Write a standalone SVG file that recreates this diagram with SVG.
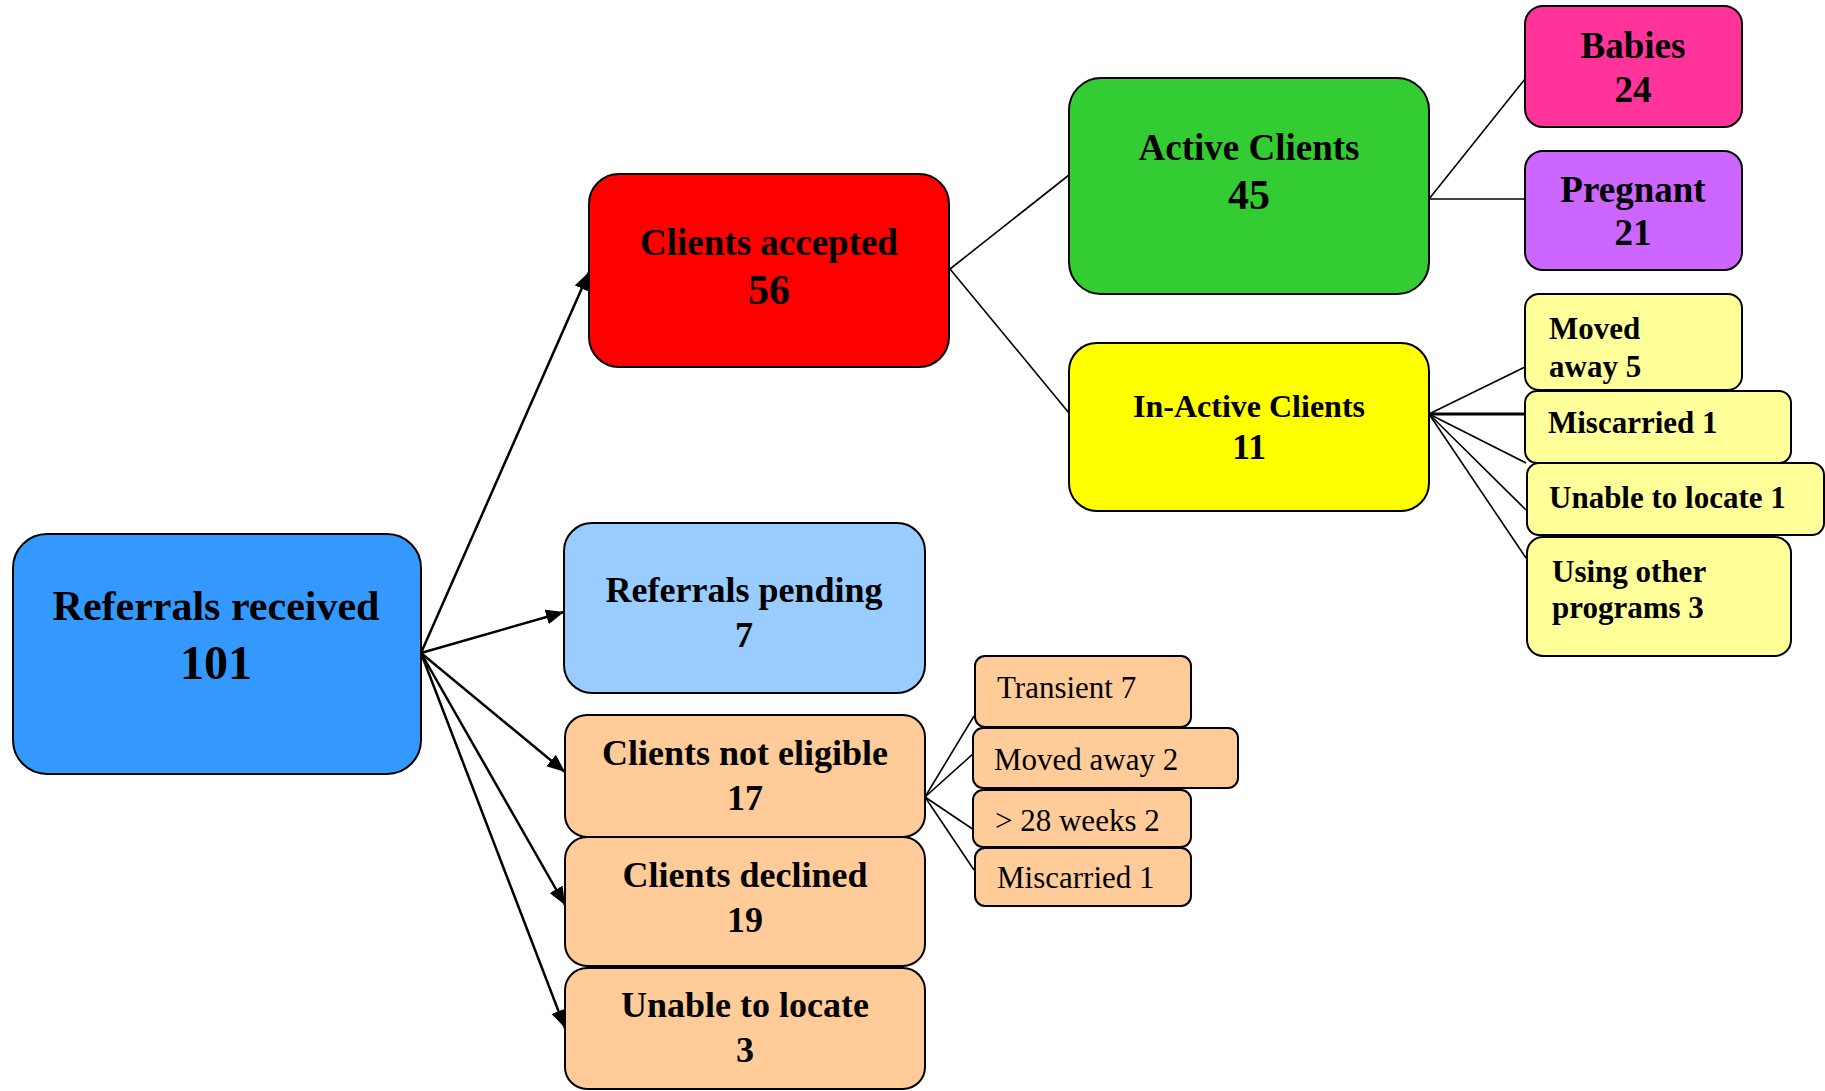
<svg xmlns="http://www.w3.org/2000/svg" width="1825" height="1091" viewBox="0 0 1825 1091">
<style>
.box{stroke:#000;stroke-width:2}
.t{font-family:"Liberation Serif","Times New Roman",serif;font-weight:bold;fill:#000}
.r{font-family:"Liberation Serif","Times New Roman",serif;font-weight:normal;fill:#000}
.arr{stroke:#000;stroke-width:2.5;fill:none;marker-end:url(#ah)}
.ln{stroke:#000;stroke-width:1.6;fill:none}
</style>
<defs>
<marker id="ah" markerUnits="userSpaceOnUse" markerWidth="20" markerHeight="16" refX="18" refY="7.5" orient="auto">
<path d="M0,0 L18,7.5 L0,15 z" fill="#000"/>
</marker>
</defs>
<rect width="1825" height="1091" fill="#fff"/>
<g id="connectors">
<line class="arr" x1="421" y1="653" x2="589" y2="272"/>
<line class="arr" x1="421" y1="653" x2="564" y2="612"/>
<line class="arr" x1="421" y1="653" x2="565" y2="772"/>
<line class="arr" x1="421" y1="653" x2="565" y2="905"/>
<line class="arr" x1="421" y1="653" x2="565" y2="1028"/>
<line class="ln" x1="950" y1="269" x2="1069" y2="175"/>
<line class="ln" x1="950" y1="269" x2="1069" y2="413"/>
<line class="ln" x1="1429" y1="199" x2="1525" y2="79"/>
<line class="ln" x1="1429" y1="199" x2="1525" y2="199"/>
<line class="ln" x1="1429" y1="414" x2="1525" y2="367"/>
<line class="ln" x1="1429" y1="414" x2="1525" y2="414" style="stroke-width:3"/>
<line class="ln" x1="1429" y1="414" x2="1526" y2="463"/>
<line class="ln" x1="1429" y1="414" x2="1526" y2="510"/>
<line class="ln" x1="1429" y1="414" x2="1526" y2="558"/>
<line class="ln" x1="925" y1="797" x2="974" y2="716"/>
<line class="ln" x1="925" y1="797" x2="974" y2="753"/>
<line class="ln" x1="925" y1="797" x2="974" y2="830"/>
<line class="ln" x1="925" y1="797" x2="974" y2="870"/>
</g>
<g id="referrals-received">
<rect class="box" x="13" y="534" width="408" height="240" rx="34" fill="#3399FF"/>
<text class="t" x="216" y="620" font-size="42" text-anchor="middle">Referrals received</text>
<text class="t" x="216" y="679" font-size="48" text-anchor="middle">101</text>
</g>
<g id="clients-accepted">
<rect class="box" x="589" y="174" width="360" height="193" rx="30" fill="#FF0000"/>
<text class="t" x="769" y="255" font-size="37" text-anchor="middle">Clients accepted</text>
<text class="t" x="769" y="304" font-size="42" text-anchor="middle">56</text>
</g>
<g id="referrals-pending">
<rect class="box" x="564" y="523" width="361" height="170" rx="28" fill="#99CCFF"/>
<text class="t" x="744" y="602" font-size="36" text-anchor="middle">Referrals pending</text>
<text class="t" x="744" y="647" font-size="36" text-anchor="middle">7</text>
</g>
<g id="clients-not-eligible">
<rect class="box" x="565" y="715" width="360" height="122" rx="22" fill="#FFCC99"/>
<text class="t" x="745" y="765" font-size="36" text-anchor="middle">Clients not eligible</text>
<text class="t" x="745" y="810" font-size="36" text-anchor="middle">17</text>
</g>
<g id="clients-declined">
<rect class="box" x="565" y="837" width="360" height="129" rx="22" fill="#FFCC99"/>
<text class="t" x="745" y="887" font-size="36" text-anchor="middle">Clients declined</text>
<text class="t" x="745" y="932" font-size="36" text-anchor="middle">19</text>
</g>
<g id="unable-to-locate">
<rect class="box" x="565" y="968" width="360" height="121" rx="22" fill="#FFCC99"/>
<text class="t" x="745" y="1017" font-size="36" text-anchor="middle">Unable to locate</text>
<text class="t" x="745" y="1062" font-size="36" text-anchor="middle">3</text>
</g>
<g id="active-clients">
<rect class="box" x="1069" y="78" width="360" height="216" rx="32" fill="#33CC33"/>
<text class="t" x="1249" y="160" font-size="37" text-anchor="middle">Active Clients</text>
<text class="t" x="1249" y="209" font-size="42" text-anchor="middle">45</text>
</g>
<g id="inactive-clients">
<rect class="box" x="1069" y="343" width="360" height="168" rx="28" fill="#FFFF00"/>
<text class="t" x="1249" y="417" font-size="32" text-anchor="middle">In-Active Clients</text>
<text class="t" x="1249" y="459" font-size="36" text-anchor="middle">11</text>
</g>
<g id="babies">
<rect class="box" x="1525" y="6" width="217" height="121" rx="18" fill="#FF3399"/>
<text class="t" x="1633" y="58" font-size="37" text-anchor="middle">Babies</text>
<text class="t" x="1633" y="102" font-size="37" text-anchor="middle">24</text>
</g>
<g id="pregnant">
<rect class="box" x="1525" y="151" width="217" height="119" rx="18" fill="#CC66FF"/>
<text class="t" x="1633" y="202" font-size="37" text-anchor="middle">Pregnant</text>
<text class="t" x="1633" y="245" font-size="37" text-anchor="middle">21</text>
</g>
<g id="moved-away-5">
<rect class="box" x="1525" y="294" width="217" height="96" rx="14" fill="#FFFF99"/>
<text class="t" x="1549" y="339" font-size="31">Moved</text>
<text class="t" x="1549" y="377" font-size="31">away 5</text>
</g>
<g id="miscarried-1-inactive">
<rect class="box" x="1525" y="391" width="266" height="72" rx="12" fill="#FFFF99"/>
<text class="t" x="1548" y="433" font-size="31">Miscarried 1</text>
</g>
<g id="unable-to-locate-1">
<rect class="box" x="1527" y="463" width="297" height="72" rx="12" fill="#FFFF99"/>
<text class="t" x="1549" y="508" font-size="31">Unable to locate 1</text>
</g>
<g id="using-other-programs">
<rect class="box" x="1527" y="537" width="264" height="119" rx="16" fill="#FFFF99"/>
<text class="t" x="1552" y="582" font-size="31">Using other</text>
<text class="t" x="1552" y="618" font-size="31">programs 3</text>
</g>
<g id="transient-7">
<rect class="box" x="975" y="656" width="216" height="71" rx="10" fill="#FFCC99"/>
<text class="r" x="997" y="698" font-size="31">Transient 7</text>
</g>
<g id="moved-away-2">
<rect class="box" x="973" y="728" width="265" height="60" rx="10" fill="#FFCC99"/>
<text class="r" x="994" y="770" font-size="31">Moved away 2</text>
</g>
<g id="over-28-weeks">
<rect class="box" x="973" y="790" width="218" height="57" rx="10" fill="#FFCC99"/>
<text class="r" x="995" y="831" font-size="31">&gt; 28 weeks 2</text>
</g>
<g id="miscarried-1-noneligible">
<rect class="box" x="975" y="848" width="216" height="58" rx="10" fill="#FFCC99"/>
<text class="r" x="997" y="888" font-size="31">Miscarried 1</text>
</g>
</svg>
